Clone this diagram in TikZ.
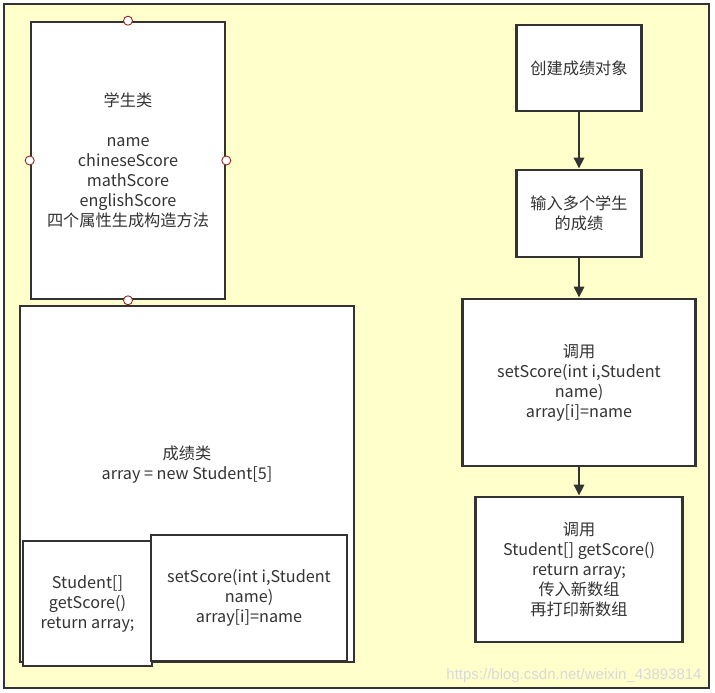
\documentclass[tikz,border=0pt]{standalone}
\usepackage{fontspec}
\setmainfont{Noto Sans CJK SC}
\newfontfamily\markfont{Liberation Sans}
\usetikzlibrary{arrows.meta,positioning}
\definecolor{bgyellow}{RGB}{255,255,204}
\definecolor{linegray}{RGB}{51,51,51}
\definecolor{txtgray}{RGB}{51,51,51}
\definecolor{handlered}{RGB}{150,40,40}

\begin{document}
\begin{tikzpicture}[x=1pt,y=-1pt,% pixel-like units, y grows downwards
					every node/.style={
						align=center,		% so that "\\" breaks the lines
						text=txtgray,
						font=\fontsize{16.2}{20}\selectfont
						},
					umlbox/.style={rectangle,draw=linegray,line width=2.6pt,fill=white,inner sep=0pt},
					handle/.style={circle,draw=handlered,fill=white,line width=0.9pt,minimum size=9pt,inner sep=0pt},
					every edge/.style={draw=linegray,line width=2.6pt,-{Triangle[length=11pt,width=10pt]}}
					]
\useasboundingbox (0,0) rectangle (715,693);
\draw[fill=bgyellow,draw=linegray,line width=2pt] (4,4) rectangle (709,688);

% left side: the two classes
\node[umlbox,minimum width=194pt,minimum height=277pt](Stu) at (128,160.5){学生类\\[20pt]name\\chineseScore\\mathScore\\englishScore\\四个属性生成构造方法};
\node[umlbox,minimum width=334pt,minimum height=356pt](Score) at (187,484){};
\node(ScoreTxt) at (187,465){成绩类\\array = new Student[5]};
\node[umlbox,minimum width=129pt,minimum height=125pt](GetM) at (87.5,603.5){Student[]\\getScore()\\return array;};
\node[umlbox,minimum width=196pt,minimum height=126pt](SetM) at (249,598){setScore(int i,Student\\name)\\array[i]=name};

\node[handle](H1) at (Stu.north){};
\node[handle](H2) at (Stu.west){};
\node[handle](H3) at (Stu.east){};
\node[handle](H4) at (Stu.south){};

% right side: the steps
\node[umlbox,minimum width=125pt,minimum height=86pt](R1) at (579,68){创建成绩对象};
\node[umlbox,minimum width=125pt,minimum height=87pt](R2) at (579,213.5){输入多个学生\\的成绩};
\node[umlbox,minimum width=233pt,minimum height=167pt](R3) at (579,382.5){调用\\setScore(int i,Student\\name)\\array[i]=name};
\node[umlbox,minimum width=207pt,minimum height=145pt](R4) at (579,569.5){调用\\Student[] getScore()\\return array;\\传入新数组\\再打印新数组};
\path
(R1)edge (R2)
(R2)edge (R3)
(R3)edge (R4)
;

\node[text=black!15,font=\markfont\fontsize{15}{18}\selectfont](Mark) at (574,676){https://blog.csdn.net/weixin\_43893814};
\end{tikzpicture}
\end{document}
